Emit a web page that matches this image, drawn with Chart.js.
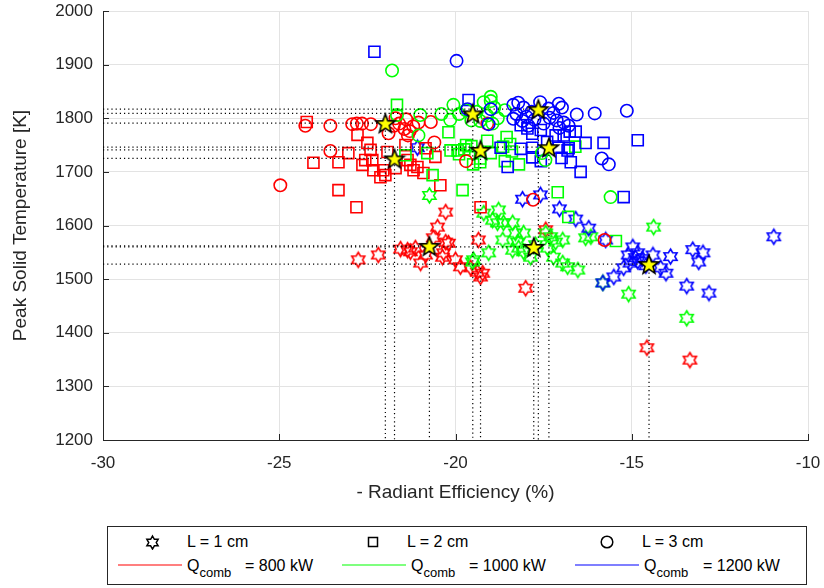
<!DOCTYPE html>
<html>
<head>
<meta charset="utf-8">
<script src="https://cdn.jsdelivr.net/npm/chart.js@4"></script>
<style>
  body { margin: 0; background: #fff; font-family: 'Liberation Sans', Arial, Helvetica, sans-serif; }
  #wrap { position: relative; width: 824px; height: 588px; }
  #legendBox { position: absolute; left: 107px; top: 526px; width: 698px; height: 57px; border: 1px solid #262626; background: #fff; }
  .lg { position: absolute; font-size: 16px; color: #000; line-height: 16px; white-space: nowrap; }
  .lg sub { font-size: 13px; vertical-align: -6px; line-height: 0; }
  .mk { position: absolute; }
</style>
</head>
<body>
<div id="wrap">
  <canvas id="chart" width="824" height="510"></canvas>
  <div id="legendBox">
    <canvas class="mk" id="lgStar" width="16" height="16" style="left:36px;top:7px"></canvas>
    <div class="lg" style="left:79px;top:7px">L = 1 cm</div>
    <canvas class="mk" id="lgSquare" width="16" height="16" style="left:257px;top:7px"></canvas>
    <div class="lg" style="left:299px;top:7px">L = 2 cm</div>
    <canvas class="mk" id="lgCircle" width="16" height="16" style="left:491px;top:7px"></canvas>
    <div class="lg" style="left:534px;top:7px">L = 3 cm</div>

    <svg class="mk" width="698" height="4" style="left:0;top:36px">
      <line x1="10" y1="2" x2="74" y2="2" stroke="#ff0000" stroke-width="1.2"/>
      <line x1="234" y1="2" x2="298" y2="2" stroke="#00ff00" stroke-width="1.2"/>
      <line x1="467" y1="2" x2="531" y2="2" stroke="#0000ff" stroke-width="1.2"/>
    </svg>
    <div class="lg" style="left:79px;top:31px">Q<sub>comb</sub></div>
    <div class="lg" style="left:137px;top:31px">= 800 kW</div>
    <div class="lg" style="left:303px;top:31px">Q<sub>comb</sub></div>
    <div class="lg" style="left:361px;top:31px">= 1000 kW</div>
    <div class="lg" style="left:536px;top:31px">Q<sub>comb</sub></div>
    <div class="lg" style="left:595px;top:31px">= 1200 kW</div>
  </div>
</div>
<script>
// axis ticks
const xTicks = [-30, -25, -20, -15, -10];
const yTicks = [1200, 1300, 1400, 1500, 1600, 1700, 1800, 1900, 2000];

// Q = 800 kW (red)
const redStar = [[-22.76,1536],[-22.19,1545],[-21.56,1556],[-21.36,1554],[-21.28,1551],[-21.14,1558],[-20.99,1530],[-20.85,1545],
  [-20.63,1577],[-20.51,1597],[-20.28,1625],[-20.28,1569],[-20.2,1567],[-20.34,1549],[-20.37,1541],[-20.0,1536],[-19.86,1523],
  [-19.57,1521],[-19.35,1573],[-19.38,1513],[-19.23,1511],[-19.29,1504],[-18.01,1483],[-17.44,1592],[-14.57,1372],[-13.35,1349]];
const redSquare = [[-24.22,1793],[-24.03,1717],[-23.32,1718],[-23.32,1666],[-22.81,1634],[-22.78,1769],[-22.5,1754],[-22.41,1741],
  [-22.56,1722],[-22.36,1722],[-22.33,1703],[-22.05,1703],[-21.99,1694],[-22.13,1690],[-21.93,1737],[-21.42,1750],[-21.36,1722],
  [-21.28,1713],[-21.19,1703],[-21.08,1709],[-20.91,1698],[-20.85,1744],[-20.57,1728],[-20.43,1675],[-19.29,1634],[-22.64,1713],
  [-21.7,1707],[-23.04,1735]];
const redCircle = [[-24.97,1675],[-24.26,1786],[-23.55,1786],[-23.55,1739],[-22.93,1789],[-22.8,1790],[-22.65,1790],[-22.4,1789],
  [-21.75,1786],[-21.6,1790],[-21.45,1780],[-21.3,1776],[-21.2,1785],[-21.05,1792],[-20.7,1793],[-20.6,1755],[-21.35,1768],
  [-21.7,1800],[-21.4,1798],[-19.7,1720],[-17.8,1648],[-15.77,1573],[-19.1,1790],[-21.9,1772]];

// Q = 1000 kW (green)
const greenStar = [[-20.74,1656],[-19.49,1536],[-19.06,1549],[-19.2,1623],[-18.78,1629],[-18.95,1610],[-18.81,1605],[-18.64,1605],
  [-18.38,1605],[-18.3,1586],[-18.07,1586],[-18.24,1569],[-18.38,1554],[-18.21,1558],[-18.07,1551],[-17.87,1541],[-17.44,1586],
  [-17.3,1579],[-17.16,1569],[-16.96,1573],[-17.39,1558],[-17.22,1541],[-16.96,1530],[-16.82,1523],[-16.53,1517],[-16.31,1577],
  [-16.16,1579],[-19.52,1532],[-15.82,1493],[-14.38,1597],[-15.09,1472],[-13.44,1427],[-18.66,1573],[-17.73,1564]];
const greenSquare = [[-21.66,1825],[-21.42,1731],[-20.8,1735],[-20.65,1694],[-20.2,1774],[-20.14,1740],[-19.94,1740],[-19.9,1733],
  [-19.75,1742],[-19.7,1750],[-19.55,1748],[-19.3,1725],[-19.1,1758],[-19.0,1735],[-18.65,1747],[-18.55,1765],[-18.45,1752],
  [-18.4,1738],[-18.6,1720],[-18.2,1714],[-19.5,1714],[-19.8,1666],[-17.1,1662],[-16.8,1616],[-15.45,1571],[-16.6,1747],[-19.3,1718]];
const greenCircle = [[-21.8,1889],[-21.66,1806],[-21.0,1806],[-21.05,1768],[-20.4,1808],[-20.15,1797],[-20.06,1825],[-19.9,1808],
  [-19.7,1815],[-19.55,1796],[-19.4,1812],[-19.2,1830],[-19.0,1832],[-18.9,1820],[-18.8,1800],[-19.3,1795],[-18.6,1815],
  [-19.1,1805],[-18.95,1790],[-17.55,1735],[-17.45,1722],[-15.6,1653],[-19.0,1840]];

// Q = 1200 kW (blue)
const blueStar = [[-18.1,1649],[-17.59,1657],[-17.05,1631],[-16.59,1612],[-16.22,1595],[-15.74,1573],[-14.97,1560],[-14.83,1549],
  [-15.05,1530],[-15.23,1521],[-15.51,1504],[-15.82,1493],[-14.83,1533],[-14.7,1538],[-14.4,1545],[-14.18,1521],[-14.03,1511],
  [-13.9,1542],[-13.27,1555],[-12.98,1549],[-13.1,1532],[-13.44,1487],[-12.81,1474],[-10.97,1579],[-14.6,1525],[-14.9,1540],
  [-15.1,1545],[-21.08,1745]];
const blueSquare = [[-22.3,1924],[-19.63,1834],[-18.72,1745],[-18.52,1709],[-18.15,1787],[-17.96,1781],[-17.82,1771],[-18.15,1743],
  [-17.82,1745],[-17.82,1727],[-17.58,1778],[-17.58,1720],[-17.16,1768],[-16.93,1768],[-17.07,1745],[-16.76,1775],[-16.59,1775],
  [-16.99,1726],[-16.79,1744],[-16.82,1740],[-16.73,1718],[-16.45,1700],[-16.31,1754],[-15.8,1754],[-14.83,1759],[-15.23,1653],[-17.4,1756]];
const blueCircle = [[-19.97,1907],[-19.66,1817],[-19.0,1817],[-19.06,1789],[-18.36,1825],[-18.22,1829],[-18.07,1820],[-18.27,1808],
  [-18.36,1799],[-17.99,1803],[-17.84,1812],[-17.76,1797],[-17.36,1818],[-17.22,1810],[-17.07,1827],[-16.98,1820],[-17.33,1801],
  [-17.13,1796],[-16.93,1792],[-16.79,1786],[-17.05,1782],[-17.93,1786],[-17.5,1790],[-16.56,1807],[-16.05,1809],[-15.14,1814],
  [-15.85,1725],[-15.65,1714],[-17.6,1830],[-18.1,1795]];

// group means (yellow pentagrams)
const meanX = [-21.99, -21.73, -20.74, -19.51, -19.29, -17.78, -17.65, -17.35, -14.51];
const meanY = [1791, 1725, 1562, 1809, 1741, 1560, 1817, 1746, 1528];

function hexagram(color, r, lw) {
  const s = Math.ceil(r * 2 + 4);
  const c = document.createElement('canvas');
  c.width = c.height = s;
  const g = c.getContext('2d');
  g.strokeStyle = color;
  g.lineWidth = lw;
  g.lineJoin = 'miter';
  g.beginPath();
  for (let i = 0; i < 12; i++) {
    const a = -Math.PI / 2 + i * Math.PI / 6;
    const rr = i % 2 === 0 ? r : r / Math.sqrt(3);
    g.lineTo(s / 2 + rr * Math.cos(a), s / 2 + rr * Math.sin(a));
  }
  g.closePath();
  g.stroke();
  return c;
}

function pentagram(r) {
  const s = Math.ceil(r * 2 + 4);
  const c = document.createElement('canvas');
  c.width = c.height = s;
  const g = c.getContext('2d');
  g.beginPath();
  for (let i = 0; i < 10; i++) {
    const a = -Math.PI / 2 + i * Math.PI / 5;
    const rr = i % 2 === 0 ? r : r * 0.42;
    g.lineTo(s / 2 + rr * Math.cos(a), s / 2 + rr * Math.sin(a) + 1);
  }
  g.closePath();
  g.fillStyle = '#ffff00';
  g.fill();
  g.strokeStyle = '#000';
  g.lineWidth = 1.6;
  g.stroke();
  return c;
}

const pts = arr => arr.map(p => ({ x: p[0], y: p[1] }));

function markerSet(data, color, shape) {
  const ds = { type: 'scatter', data: pts(data), showLine: false, pointBorderColor: color,
    pointBackgroundColor: 'rgba(0,0,0,0)', pointBorderWidth: 1.6 };
  if (shape === 'star') { ds.pointStyle = hexagram(color, 7.5, 1.6); ds.pointRadius = 8; }
  if (shape === 'square') { ds.pointStyle = 'rect'; ds.pointRadius = 7.8; }
  if (shape === 'circle') { ds.pointStyle = 'circle'; ds.pointRadius = 6.2; }
  return ds;
}

// bottom -> top
const layers = [
  markerSet(redStar, '#ff0000', 'star'),
  markerSet(greenStar, '#00ff00', 'star'),
  markerSet(blueStar, '#0000ff', 'star'),
  markerSet(redSquare, '#ff0000', 'square'),
  markerSet(greenSquare, '#00ff00', 'square'),
  markerSet(blueSquare, '#0000ff', 'square'),
  markerSet(redCircle, '#ff0000', 'circle'),
  markerSet(greenCircle, '#00ff00', 'circle'),
  markerSet(blueCircle, '#0000ff', 'circle')
];
meanX.forEach((mx, i) => {
  layers.push({ type: 'line', data: [{ x: -30, y: meanY[i] }, { x: mx, y: meanY[i] }, { x: mx, y: 1200 }],
    borderColor: '#000', borderWidth: 1.2, borderDash: [1.2, 3], pointRadius: 0, fill: false, tension: 0 });
});
layers.push({ type: 'scatter', data: meanX.map((x, i) => ({ x: x, y: meanY[i] })), pointStyle: pentagram(10), pointRadius: 10 });
layers.forEach((d, i) => { d.order = layers.length - i; });

const innerTicks = {
  id: 'innerTicks',
  afterDraw(chart) {
    const { ctx, chartArea: a, scales: { x, y } } = chart;
    ctx.save();
    ctx.strokeStyle = '#262626';
    ctx.lineWidth = 1;
    ctx.beginPath();
    xTicks.forEach(v => { const px = Math.round(x.getPixelForValue(v)) + 0.5; ctx.moveTo(px, a.bottom); ctx.lineTo(px, a.bottom - 6); });
    yTicks.forEach(v => { const py = Math.round(y.getPixelForValue(v)) + 0.5; ctx.moveTo(a.left, py); ctx.lineTo(a.left + 6, py); });
    ctx.stroke();
    ctx.restore();
  }
};

function noPad(s) {
  s.paddingTop = 0; s.paddingBottom = 0; s.paddingLeft = 0; s.paddingRight = 0;
}

const font = "'Liberation Sans', Arial, Helvetica, sans-serif";
Chart.defaults.font.family = font;

new Chart(document.getElementById('chart').getContext('2d'), {
  type: 'scatter',
  data: { datasets: layers },
  options: {
    responsive: false,
    animation: false,
    events: [],
    layout: { padding: { top: 11, right: 16, left: 0, bottom: 0 } },
    plugins: { legend: { display: false }, tooltip: { enabled: false } },
    scales: {
      x: {
        type: 'linear', min: -30, max: -10,
        afterBuildTicks: s => { s.ticks = xTicks.map(v => ({ value: v })); },
        afterFit: s => { s.height = 70; noPad(s); },
        grid: { color: '#e3e3e3', drawTicks: false },
        border: { display: true, color: '#262626', width: 1 },
        ticks: { color: '#262626', font: { size: 17 }, padding: 13, callback: v => String(v) },
        title: { display: true, text: '- Radiant Efficiency (%)', color: '#262626', font: { size: 19 }, padding: { top: 0, bottom: 6 } }
      },
      y: {
        type: 'linear', min: 1200, max: 2000,
        afterBuildTicks: s => { s.ticks = yTicks.map(v => ({ value: v })); },
        afterFit: s => { s.width = 103; noPad(s); },
        grid: { color: '#e3e3e3', drawTicks: false },
        border: { display: true, color: '#262626', width: 1 },
        ticks: { color: '#262626', font: { size: 17 }, padding: 10, callback: v => String(v) },
        title: { display: true, text: 'Peak Solid Temperature [K]', color: '#262626', font: { size: 19 }, padding: { top: 9, bottom: 0 } }
      }
    }
  },
  plugins: [innerTicks]
});

// legend markers
(function () {
  const s = document.getElementById('lgStar').getContext('2d');
  s.drawImage(hexagram('#000', 6.5, 1.5), 0, 0);
  const q = document.getElementById('lgSquare').getContext('2d');
  q.strokeStyle = '#000'; q.lineWidth = 1.5; q.strokeRect(3.5, 3.5, 9, 9);
  const c = document.getElementById('lgCircle').getContext('2d');
  c.strokeStyle = '#000'; c.lineWidth = 1.5; c.beginPath(); c.arc(8, 8, 5.8, 0, Math.PI * 2); c.stroke();
})();
</script>
</body>
</html>
